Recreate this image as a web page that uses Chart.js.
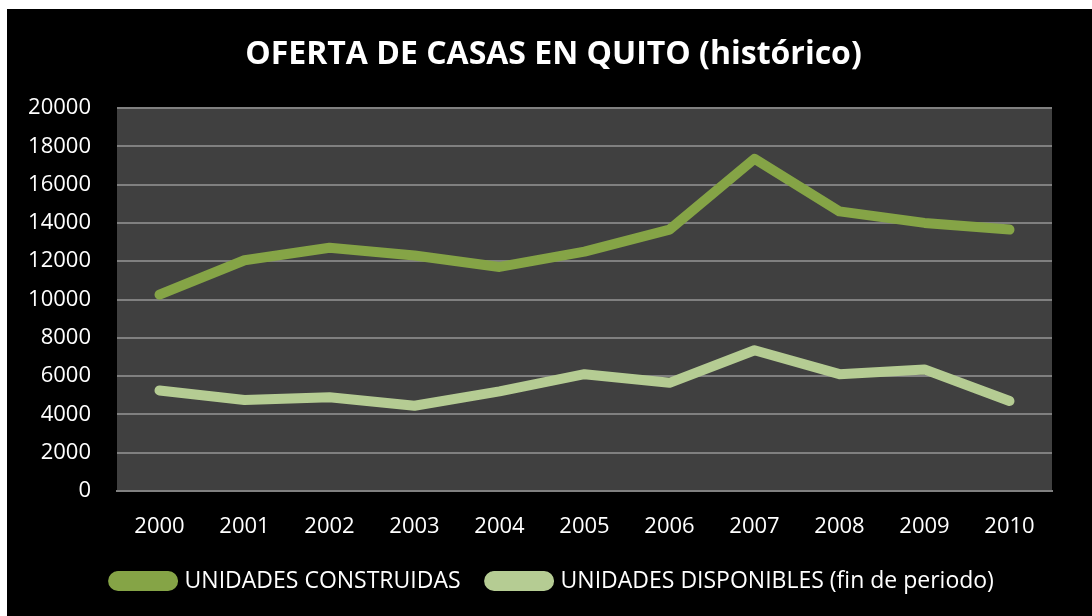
<!DOCTYPE html>
<html>
<head>
<meta charset="utf-8">
<script src="https://cdn.jsdelivr.net/npm/chart.js@4"></script>
<style>
  html, body { margin: 0; padding: 0; background: #ffffff; }
  #wrap { position: absolute; left: 7px; top: 9px; width: 1085px; height: 607px; background: #000000; }
</style>
</head>
<body>
<div id="wrap"><canvas id="chart" width="1085" height="607"></canvas></div>
<script>
const years = ["2000", "2001", "2002", "2003", "2004", "2005", "2006", "2007", "2008", "2009", "2010"];
const construidas = [10250, 12050, 12700, 12300, 11700, 12500, 13650, 17350, 14600, 14000, 13650];
const disponibles = [5250, 4750, 4900, 4450, 5200, 6100, 5650, 7350, 6100, 6350, 4700];
const yTicks = [0, 2000, 4000, 6000, 8000, 10000, 12000, 14000, 16000, 18000, 20000];

const FONT = "'Open Sans', 'DejaVu Sans', sans-serif";

// fill the plot area grey before anything else is drawn
const plotBackground = {
  id: "plotBackground",
  beforeDraw(chart) {
    const { ctx, chartArea } = chart;
    ctx.save();
    ctx.fillStyle = "#404040";
    ctx.fillRect(chartArea.left, chartArea.top, chartArea.right - chartArea.left, chartArea.bottom - chartArea.top);
    ctx.restore();
  },
};

const ctx = document.getElementById("chart").getContext("2d");
new Chart(ctx, {
  type: "line",
  data: {
    labels: years,
    datasets: [
      {
        label: "UNIDADES CONSTRUIDAS",
        data: construidas,
        borderColor: "#85a446",
        backgroundColor: "#85a446",
        borderWidth: 10,
        borderCapStyle: "round",
        borderJoinStyle: "round",
        pointRadius: 0,
        tension: 0,
      },
      {
        label: "UNIDADES DISPONIBLES (fin de periodo)",
        data: disponibles,
        borderColor: "#b5cc93",
        backgroundColor: "#b5cc93",
        borderWidth: 10,
        borderCapStyle: "round",
        borderJoinStyle: "round",
        pointRadius: 0,
        tension: 0,
      },
    ],
  },
  options: {
    responsive: false,
    animation: false,
    layout: { padding: { left: 8, right: 0, top: 0, bottom: 13.5 } },
    scales: {
      x: {
        offset: true,
        grid: { display: false, drawTicks: false },
        border: { display: true, color: "#808080", width: 2 },
        ticks: { color: "#ffffff", padding: 23, font: { family: FONT, size: 22 } },
        afterFit: (s) => { s.height = 50; },
      },
      y: {
        min: 0,
        max: 20000,
        afterBuildTicks: (s) => { s.ticks = yTicks.map((v) => ({ value: v })); },
        grid: { color: "#808080", lineWidth: 2, drawTicks: false },
        border: { display: false },
        ticks: {
          color: "#ffffff",
          padding: 26,
          font: { family: FONT, size: 22 },
          callback: (v) => String(v),
        },
        afterFit: (s) => { s.width = 102; },
      },
      yRight: {
        position: "right",
        display: true,
        grid: { display: false, drawTicks: false },
        border: { display: false },
        ticks: { display: false },
        afterFit: (s) => { s.width = 40; },
      },
    },
    plugins: {
      title: {
        display: true,
        text: "OFERTA DE CASAS EN QUITO (histórico)",
        color: "#ffffff",
        font: { family: FONT, size: 32, weight: "bold" },
        padding: { top: 27, bottom: 33.6 },
      },
      legend: {
        position: "bottom",
        labels: {
          color: "#ffffff",
          font: { family: FONT, size: 23 },
          boxWidth: 60,
          boxHeight: 10,
          useBorderRadius: true,
          borderRadius: 5,
          padding: 28.5,
        },
      },
      tooltip: { enabled: false },
    },
  },
  plugins: [plotBackground],
});
</script>
</body>
</html>
